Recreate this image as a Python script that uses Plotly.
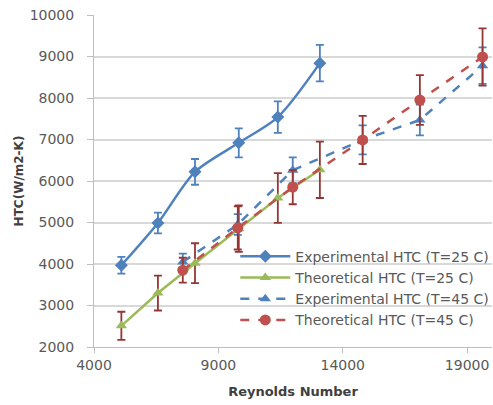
import plotly.graph_objects as go

# ---- data ----
re_25 = [5100, 6570, 8060, 9820, 11390, 13080]
exp_25 = [3970, 4990, 6220, 6920, 7540, 8840]
exp_25_err = [200, 250, 310, 350, 380, 440]
theo_25 = [2510, 3300, 4020, 4850, 5590, 6270]
theo_25_err = [340, 420, 480, 560, 600, 680]

re_45 = [7570, 9780, 11990, 14800, 17100, 19620]
exp_45 = [4050, 4950, 6260, 6990, 7470, 8780]
exp_45_err = [200, 250, 310, 350, 370, 440]
theo_45 = [3850, 4870, 5850, 6990, 7950, 8990]
theo_45_err = [300, 520, 410, 580, 600, 690]

names = ["Experimental HTC (T=25 C)", "Theoretical HTC (T=25 C)",
         "Experimental HTC (T=45 C)", "Theoretical HTC (T=45 C)"]
x_ticks = [4000, 9000, 14000, 19000]
y_ticks = [2000, 3000, 4000, 5000, 6000, 7000, 8000, 9000, 10000]

BLUE = "#4F81BD"
GREEN = "#9BBB59"
RED = "#C0504D"
DARKRED = "#943634"
FONT = "DejaVu Sans, sans-serif"

fig = go.Figure()

def add(x, y, err, name, color, errcolor, symbol, dash, shape, msize):
    fig.add_trace(go.Scatter(
        x=x, y=y, name=name, mode="lines+markers", cliponaxis=False,
        line=dict(color=color, width=2.5, dash=dash, shape=shape, smoothing=0.8),
        marker=dict(symbol=symbol, size=msize, color=color),
        error_y=dict(type="data", array=err, visible=True,
                     color=errcolor, thickness=1.8, width=4),
    ))

add(re_25, exp_25, exp_25_err, names[0], BLUE, BLUE, "diamond", "solid", "spline", 10)
add(re_25, theo_25, theo_25_err, names[1], GREEN, DARKRED, "triangle-up", "solid", "linear", 10)
add(re_45, exp_45, exp_45_err, names[2], BLUE, BLUE, "triangle-up", "dash", "linear", 10)
add(re_45, theo_45, theo_45_err, names[3], RED, DARKRED, "circle", "dash", "linear", 11)

fig.update_layout(
    width=493, height=405,
    margin=dict(l=94, r=1, t=15, b=58, autoexpand=False),
    paper_bgcolor="white", plot_bgcolor="white",
    font=dict(family=FONT, color="#595959", size=14),
    showlegend=True,
    legend=dict(x=0.355, y=0.32, xanchor="left", yanchor="top",
                bgcolor="rgba(0,0,0,0)", font=dict(family=FONT, size=14, color="#595959"),
                itemwidth=50, tracegroupgap=0),
)
fig.update_xaxes(
    range=[4000, 20000], tickvals=x_ticks, ticktext=[str(v) for v in x_ticks],
    showgrid=False, showline=True, linecolor="#BFBFBF", linewidth=1,
    ticks="outside", ticklen=5, tickcolor="#BFBFBF",
    tickfont=dict(family=FONT, size=14, color="#595959"),
    title=dict(text="<b>Reynolds Number</b>", font=dict(family=FONT, size=13, color="#404040"), standoff=15),
    zeroline=False,
)
fig.update_yaxes(
    range=[2000, 10000], tickvals=y_ticks, ticktext=[str(v) for v in y_ticks],
    showgrid=True, gridcolor="#D9D9D9", gridwidth=1.5,
    showline=True, linecolor="#BFBFBF", linewidth=1,
    ticks="outside", ticklen=6, tickcolor="#BFBFBF", ticklabelstandoff=10,
    tickfont=dict(family=FONT, size=14, color="#595959"),
    title=dict(text="<b>HTC(W/m2-K)</b>", font=dict(family=FONT, size=12, color="#404040"), standoff=3),
    zeroline=False,
)

fig.write_html("out.html", config={"displayModeBar": False},
               post_script="document.body.style.margin='0';")
